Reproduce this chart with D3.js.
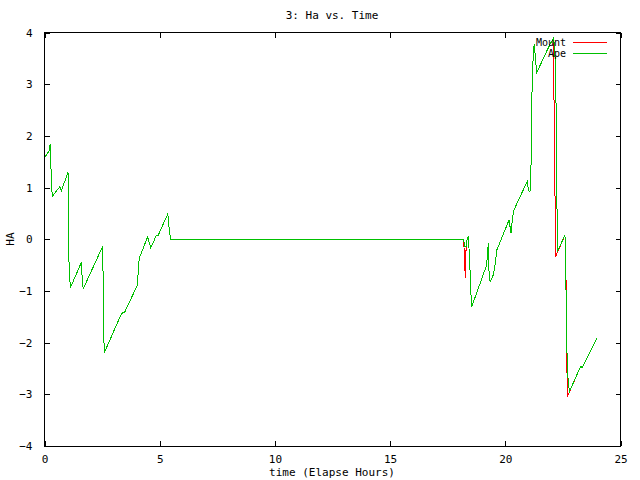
<!DOCTYPE html>
<html>
<head>
<meta charset="utf-8">
<script src="https://cdn.jsdelivr.net/npm/d3@7"></script>
<style>
  body { margin: 0; background: #fff; }
  text { font-family: "DejaVu Sans Mono", monospace; font-size: 11px; fill: #000; }
</style>
</head>
<body>
<script>
// tick labels
var xTicks = [0, 5, 10, 15, 20, 25];
var yTicks = [-4, -3, -2, -1, 0, 1, 2, 3, 4];

// Ape series (hours, HA)
var apeT = [0.01, 0.21, 0.25, 0.30, 0.34, 0.67, 0.73, 1.02, 1.05, 1.06, 1.12, 1.60, 1.63, 1.68,
  2.53, 2.54, 2.55, 2.60, 3.35, 3.47, 4.03, 4.11, 4.48, 4.61, 4.84, 4.94, 5.35, 5.43, 5.48,
  18.18, 18.21, 18.25, 18.30, 18.35, 18.39, 18.44, 18.50, 18.54, 19.19, 19.22, 19.26, 19.29,
  19.34, 19.48, 19.55, 19.63, 20.16, 20.25, 20.32, 20.38, 20.95, 21.00, 21.07, 21.12, 21.15,
  21.17, 21.25, 21.29, 21.36, 21.80, 21.94, 22.10, 22.16, 22.21, 22.26, 22.59, 22.62, 22.66,
  22.71, 22.78, 23.10, 23.27, 23.33, 23.46, 23.97];
var apeV = [1.58, 1.72, 1.85, 1.09, 0.83, 1.02, 0.94, 1.29, 0.74, -0.40, -0.94, -0.45, -0.71, -0.96,
  -0.13, -0.65, -1.68, -2.19, -1.43, -1.42, -0.89, -0.37, 0.05, -0.17, 0.06, 0.08, 0.49, 0.12, 0,
  0, -0.05, -0.15, -0.14, 0.03, 0.04, -0.27, -0.97, -1.31, -0.50, -0.32, -0.08, -0.60,
  -0.82, -0.69, -0.52, -0.21, 0.37, 0.12, 0.44, 0.57, 1.12, 0.96, 0.91, 1.47, 2.51,
  3.22, 3.77, 3.60, 3.22, 3.64, 3.77, 3.90, 3.51, 2.47, -0.24, 0.08, -0.40, -1.95,
  -2.63, -2.95, -2.63, -2.46, -2.48, -2.38, -1.92];

// Mount series (hours, HA)
var mountT = [0.01, 0.21, 0.25, 0.30, 0.34, 0.67, 0.73, 1.02, 1.05, 1.06, 1.12, 1.60, 1.63, 1.68,
  2.53, 2.54, 2.55, 2.60, 3.35, 3.47, 4.03, 4.11, 4.48, 4.61, 4.84, 4.94, 5.35, 5.43, 5.48,
  18.18, 18.21, 18.22, 18.25, 18.26, 18.30, 18.35, 18.39, 18.44, 18.50, 18.54, 19.19, 19.22,
  19.26, 19.29, 19.34, 19.48, 19.55, 19.63, 20.16, 20.25, 20.32, 20.38, 20.95, 21.00, 21.07,
  21.12, 21.15, 21.17, 21.25, 21.29, 21.36, 21.80, 21.94, 22.10, 22.11, 22.16, 22.18, 22.59,
  22.62, 22.63, 22.66, 22.67, 22.69, 23.10, 23.27, 23.33, 23.46, 23.97];
var mountV = [1.58, 1.72, 1.85, 1.09, 0.83, 1.02, 0.94, 1.29, 0.74, -0.40, -0.94, -0.45, -0.71, -0.96,
  -0.13, -0.65, -1.68, -2.19, -1.43, -1.42, -0.89, -0.37, 0.05, -0.17, 0.06, 0.08, 0.49, 0.12, 0,
  0, -0.17, -0.56, -0.60, -0.74, -0.14, 0.03, 0.04, -0.27, -0.97, -1.31, -0.50, -0.32,
  -0.08, -0.60, -0.82, -0.69, -0.52, -0.21, 0.37, 0.12, 0.44, 0.57, 1.12, 0.96, 0.91,
  1.47, 2.51, 3.22, 3.77, 3.60, 3.22, 3.64, 3.77, 3.90, 2.86, 0.73, -0.34, 0.08,
  -0.36, -0.70, -1.24, -2.24, -3.05, -2.63, -2.46, -2.48, -2.38, -1.92];

var width = 640, height = 480;
var margin = {top: 32.5, right: 19.5, bottom: 34, left: 44.5};

var svg = d3.select("body").append("svg")
  .attr("width", width)
  .attr("height", height);

var x = d3.scaleLinear().domain([0, 25]).range([margin.left, width - margin.right]);
var y = d3.scaleLinear().domain([-4, 4]).range([height - margin.bottom, margin.top]);

// ticks (gnuplot style, inward on all four sides)
var tl = 5;
svg.append("g").attr("transform", `translate(0,${y(-4)})`)
  .call(d3.axisBottom(x).tickValues(xTicks).tickSizeInner(-tl).tickSizeOuter(0).tickPadding(9))
  .call(g => g.select(".domain").remove());
svg.append("g").attr("transform", `translate(0,${y(4)})`)
  .call(d3.axisTop(x).tickValues(xTicks).tickSizeInner(-tl).tickSizeOuter(0).tickFormat(""))
  .call(g => g.select(".domain").remove());
svg.append("g").attr("transform", `translate(${x(0)},0)`)
  .call(d3.axisLeft(y).tickValues(yTicks).tickSizeInner(-tl).tickSizeOuter(0).tickPadding(12))
  .call(g => g.select(".domain").remove());
svg.append("g").attr("transform", `translate(${x(25)},0)`)
  .call(d3.axisRight(y).tickValues(yTicks).tickSizeInner(-tl).tickSizeOuter(0).tickFormat(""))
  .call(g => g.select(".domain").remove());

svg.selectAll(".tick line").attr("stroke", "#000").attr("shape-rendering", "crispEdges");
svg.selectAll(".tick text").style("font-family", "DejaVu Sans Mono, monospace").style("font-size", "11px");

// frame
svg.append("rect")
  .attr("x", x(0)).attr("y", y(4))
  .attr("width", x(25) - x(0)).attr("height", y(-4) - y(4))
  .attr("fill", "none").attr("stroke", "#000")
  .attr("shape-rendering", "crispEdges");

var line = d3.line().x(d => x(d[0])).y(d => y(d[1]));

var mount = mountT.map((t, i) => [t, mountV[i]]);
var ape = apeT.map((t, i) => [t, apeV[i]]);

svg.append("path").datum(mount)
  .attr("d", line).attr("fill", "none").attr("stroke", "#ff0000")
  .attr("stroke-width", 1).attr("shape-rendering", "crispEdges");
svg.append("path").datum(ape)
  .attr("d", line).attr("fill", "none").attr("stroke", "#00c000")
  .attr("stroke-width", 1).attr("shape-rendering", "crispEdges");

// legend
var legend = [["Mount", "#ff0000"], ["Ape", "#00c000"]];
legend.forEach((l, i) => {
  var ly = 42.5 + i * 11;
  svg.append("text").attr("x", 566).attr("y", ly + 3.5)
    .attr("text-anchor", "end").style("font-size", "10px").text(l[0]);
  svg.append("line").attr("x1", 573).attr("x2", 607)
    .attr("y1", ly).attr("y2", ly)
    .attr("stroke", l[1]).attr("shape-rendering", "crispEdges");
});

// titles
svg.append("text").attr("x", 332).attr("y", 19).attr("text-anchor", "middle").text("3: Ha vs. Time");
svg.append("text").attr("x", 332).attr("y", 476).attr("text-anchor", "middle").text("time (Elapse Hours)");
svg.append("text").attr("transform", "translate(14,239) rotate(-90)")
  .attr("text-anchor", "middle").text("HA");
</script>
</body>
</html>
